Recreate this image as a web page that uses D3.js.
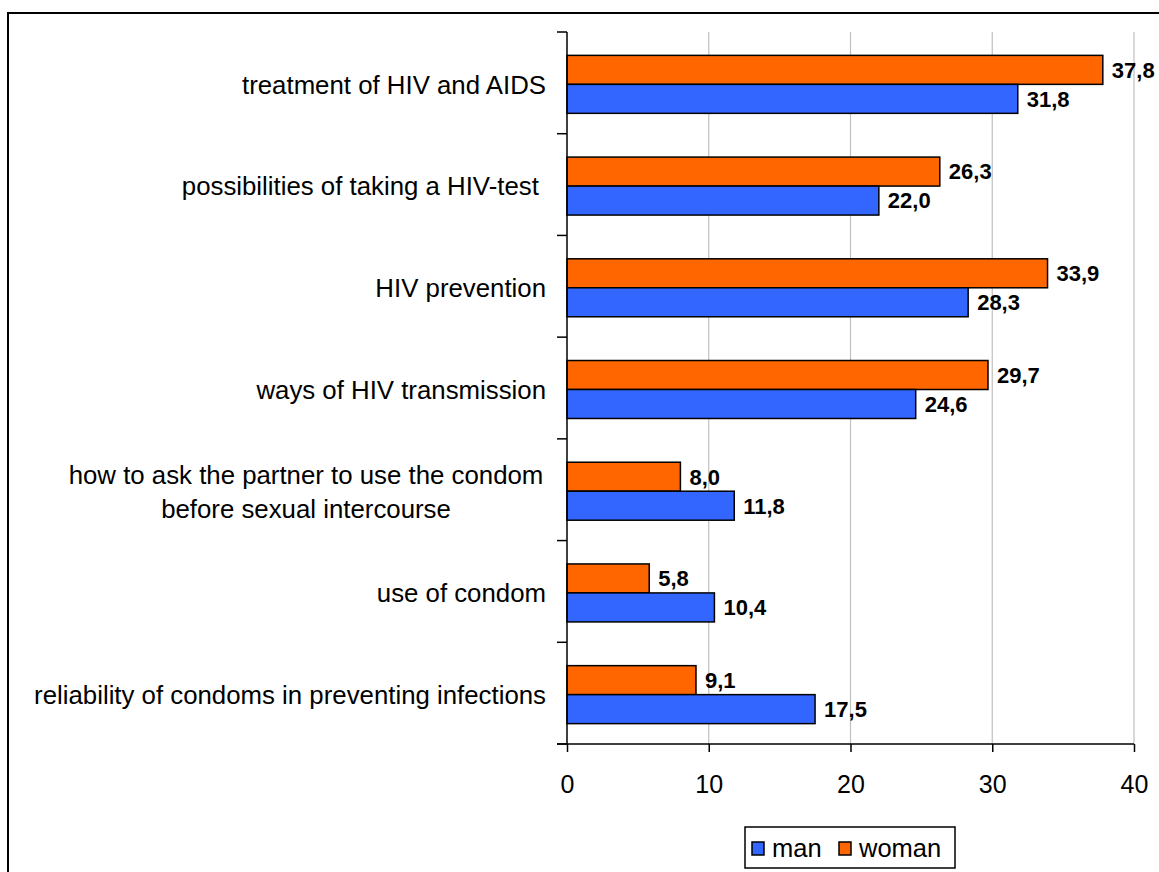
<!DOCTYPE html>
<html><head><meta charset="utf-8">
<script src="https://cdn.jsdelivr.net/npm/d3@7"></script>
<style>body{margin:0;background:#fff}svg{display:block;font-family:"Liberation Sans",Arial,sans-serif}</style>
</head><body>
<script>
const categories = [
  ["treatment of HIV and AIDS"],
  ["possibilities of taking a HIV-test "],
  ["HIV prevention"],
  ["ways of HIV transmission"],
  ["how to ask the partner to use the condom", "before sexual intercourse"],
  ["use of condom"],
  ["reliability of condoms in preventing infections"]
];
const manValues   = [31.8, 22.0, 28.3, 24.6, 11.8, 10.4, 17.5];
const womanValues = [37.8, 26.3, 33.9, 29.7, 8.0, 5.8, 9.1];
const seriesNames = ["man", "woman"];
const xTicks = [0, 10, 20, 30, 40];
const colors = {man: "#3366FF", woman: "#FF6600"};

(function(){
const W = 1159, H = 872;
const svg = d3.select("body").append("svg").attr("width", W).attr("height", H);
svg.append("rect").attr("x", 8).attr("y", 13).attr("width", W + 10).attr("height", H + 10)
  .attr("fill", "#fff").attr("stroke", "#000").attr("stroke-width", 2);

const pLeft = 567, pRight = 1134, pTop = 32, pBottom = 744;
const x = d3.scaleLinear().domain([0, 40]).range([pLeft, pRight]);
const idx = d3.range(categories.length);
const y = d3.scaleBand().domain(idx).range([pTop + 1.5, pBottom + 1.5]).paddingInner(0.43).paddingOuter(0.215);
const barH = y.bandwidth() / 2;

// gridlines
svg.append("g").selectAll("line").data(xTicks.filter(t => t > 0)).join("line")
  .attr("x1", d => x(d)).attr("x2", d => x(d)).attr("y1", pTop).attr("y2", pBottom)
  .attr("stroke", "#c0c0c0").attr("stroke-width", 1.2);

// bars
const rows = idx.map(i => ({i, man: manValues[i], woman: womanValues[i]}));
const g = svg.append("g");
rows.forEach(r => {
  [["woman", 0], ["man", 1]].forEach(([s, k]) => {
    const v = r[s];
    const yy = y(r.i) + k * barH;
    g.append("rect").attr("x", x(0)).attr("y", yy).attr("width", x(v) - x(0)).attr("height", barH)
      .attr("fill", colors[s]).attr("stroke", "#000").attr("stroke-width", 1.5);
    g.append("text").attr("x", x(v) + 9).attr("y", yy + barH / 2).attr("dy", "0.36em")
      .attr("font-size", 22).attr("font-weight", "bold").text(v.toFixed(1).replace(".", ","));
  });
});

// x axis
const xAxis = d3.axisBottom(x).tickValues(xTicks).tickSize(8).tickPadding(23).tickFormat(d => d);
const xg = svg.append("g").attr("transform", `translate(0,${pBottom})`).call(xAxis);
xg.select(".domain").attr("stroke", "#000").attr("stroke-width", 1.5).attr("d", `M${pLeft - 10},0H${pRight}`);
xg.selectAll(".tick line").attr("stroke", "#000").attr("stroke-width", 1.5);
xg.selectAll(".tick text").attr("font-size", 25).attr("font-family", "Liberation Sans, Arial, sans-serif").attr("fill", "#000");

// y axis line and ticks at band boundaries
const step = (pBottom - pTop) / categories.length;
svg.append("line").attr("x1", pLeft).attr("x2", pLeft).attr("y1", pTop).attr("y2", pBottom)
  .attr("stroke", "#000").attr("stroke-width", 1.5);
svg.append("g").selectAll("line").data(d3.range(categories.length + 1)).join("line")
  .attr("x1", pLeft - 10).attr("x2", pLeft).attr("y1", d => pTop + d * step).attr("y2", d => pTop + d * step)
  .attr("stroke", "#000").attr("stroke-width", 1.5);

// category labels
categories.forEach((lines, i) => {
  const cy = y(i) + barH;
  if (lines.length === 1) {
    svg.append("text").attr("x", 546).attr("y", cy).attr("dy", "0.36em").attr("text-anchor", "end")
      .attr("font-size", 25.8).style("white-space", "pre").text(lines[0]);
  } else {
    const t = svg.append("text").attr("text-anchor", "middle").attr("font-size", 25.8);
    lines.forEach((l, j) => {
      t.append("tspan").attr("x", 306).attr("y", cy + (j - (lines.length - 1) / 2) * 34).attr("dy", "0.36em").text(l);
    });
  }
});

// legend
const lg = svg.append("g");
lg.append("rect").attr("x", 745).attr("y", 827).attr("width", 210).attr("height", 41)
  .attr("fill", "#fff").attr("stroke", "#000").attr("stroke-width", 1.5);
const legX = [752, 839];
seriesNames.forEach((s, k) => {
  lg.append("rect").attr("x", legX[k]).attr("y", 842).attr("width", 12).attr("height", 13)
    .attr("fill", colors[s]).attr("stroke", "#000").attr("stroke-width", 1.5);
  lg.append("text").attr("x", legX[k] + 20).attr("y", 848).attr("dy", "0.36em").attr("font-size", 25.5).text(s);
});
})();
</script>
</body></html>
